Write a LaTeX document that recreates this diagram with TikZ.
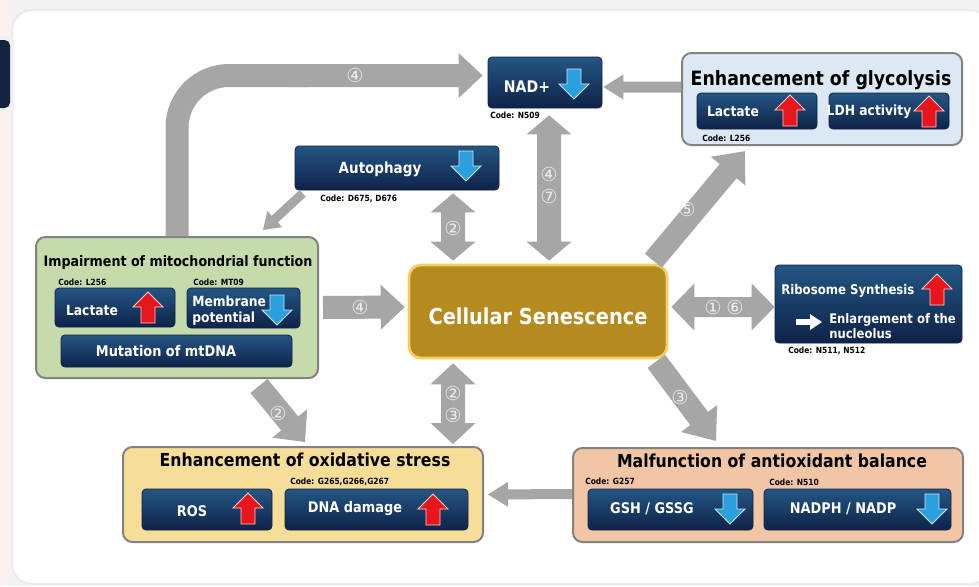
\documentclass[tikz,border=0pt]{standalone}
\usepackage{fontspec}
\newfontfamily\tah{DejaVu Sans}[FakeStretch=0.88]
\newfontfamily\circf{DejaVu Sans}
\usetikzlibrary{calc,fit}
\definecolor{arrgray}{RGB}{166,166,166}
\definecolor{navytop}{RGB}{36,86,132}
\definecolor{navybot}{RGB}{14,34,72}
\definecolor{goldfill}{RGB}{181,138,30}
\definecolor{goldedge}{RGB}{240,208,100}
\definecolor{glycfill}{RGB}{220,232,243}
\definecolor{mitofill}{RGB}{197,219,172}
\definecolor{oxfill}{RGB}{246,221,152}
\definecolor{antifill}{RGB}{242,197,165}
\definecolor{boxedge}{RGB}{130,130,130}
\definecolor{redarr}{RGB}{232,22,28}
\definecolor{bluearr}{RGB}{42,160,222}
\definecolor{tabcol}{RGB}{18,36,64}
\definecolor{bggray}{RGB}{243,243,243}
\newcommand\myfs[1]{\fontsize{#1}{#1}\selectfont}
\newcommand\myfsb[2]{\fontsize{#1}{#2}\selectfont}
% block arrow: start, end, shaft px, head width px, head length px, double(1/0)
\newcommand\garr[6]{%
 \path let \p1=(#1), \p2=(#2) in \pgfextra{%
   \pgfmathsetmacro\tmpang{atan2(\y2-\y1,\x2-\x1)}%
   \pgfmathsetmacro\tmplen{veclen(\x2-\x1,\y2-\y1)}%
   \xdef\gang{\tmpang}\xdef\glen{\tmplen}%
   \xdef\gx{\x1}\xdef\gy{\y1}};
 \pgfmathsetmacro\gs{#3*0.375}%
 \pgfmathsetmacro\gh{#4*0.375}%
 \pgfmathsetmacro\gl{#5*0.75}%
 \pgfmathsetmacro\gb{\glen-\gl}%
 \begin{scope}[shift={(\gx,\gy)},rotate=\gang]
 \ifnum#6=1
  \fill[arrgray] (0pt,0pt) -- (\gl pt,\gh pt) -- (\gl pt,\gs pt) -- (\gb pt,\gs pt) -- (\gb pt,\gh pt) -- (\glen pt,0pt) -- (\gb pt,-\gh pt) -- (\gb pt,-\gs pt) -- (\gl pt,-\gs pt) -- (\gl pt,-\gh pt) -- cycle;
 \else
  \fill[arrgray] (0pt,-\gs pt) -- (\gb pt,-\gs pt) -- (\gb pt,-\gh pt) -- (\glen pt,0pt) -- (\gb pt,\gh pt) -- (\gb pt,\gs pt) -- (0pt,\gs pt) -- cycle;
 \fi
 \end{scope}}
\tikzset{
 navybox/.style={rounded corners=3pt, top color=navytop, bottom color=navybot, draw=navybot, line width=0.6pt, inner sep=0pt},
 groupbox/.style={rounded corners=7pt, draw=boxedge, line width=1.5pt, inner sep=0pt},
 wtxt/.style={text=white, font=\tah\bfseries\myfs{10.5pt}, inner sep=0pt},
 ttl/.style={text=black, font=\tah\bfseries\myfs{13.4pt}, inner sep=0pt},
 codetxt/.style={text=black, font=\tah\bfseries\myfs{6.4pt}, inner sep=0pt, anchor=west},
 circnum/.style={text=white!92!black, font=\circf\myfs{14.5pt}, inner sep=0pt},
 redup/.pic={\filldraw[fill=redarr, draw=white!80!red, line width=0.7pt] (0,-16) -- (15,-1) -- (7,-1) -- (7,15) -- (-7,15) -- (-7,-1) -- (-15,-1) -- cycle;},
 bluedn/.pic={\filldraw[fill=bluearr, draw=white!75!bluearr, line width=0.7pt] (0,15) -- (15,0) -- (7,0) -- (7,-15) -- (-7,-15) -- (-7,0) -- (-15,0) -- cycle;},
}
\begin{document}
\begin{tikzpicture}[x=0.75pt,y=-0.75pt]
\useasboundingbox (0,0) rectangle (979,586);
% background and card
\fill[bggray] (0,0) rectangle (979,586);
\fill[red!6] (0,0) rectangle (7,586);
\fill[white, draw=black!8, line width=1.5pt, rounded corners=15pt] (12,10) rectangle (990,584);
\fill[black!6, rounded corners=5pt] (-10,36) rectangle (14,112);
\fill[tabcol, rounded corners=4pt] (-10,40) rectangle (10,108);

% ---------- boxes ----------
\node[groupbox, fill=glycfill, fit={(682,53)(962,145)}] (glyc) {};
\node[groupbox, fill=mitofill, fit={(36,237)(318,378)}] (mito) {};
\node[groupbox, fill=oxfill, fit={(123,447)(483,542)}] (oxid) {};
\node[groupbox, fill=antifill, fit={(573,448)(963,542)}] (anti) {};
\node[rounded corners=9pt, fill=goldfill, draw=goldedge, line width=2pt, inner sep=0pt, fit={(409,265)(667,358)}] (cell) {};

\node[navybox, fit={(488,57)(602,108)}] (nad) {};
\node[navybox, fit={(295,146)(499,190)}] (auto) {};
\node[navybox, fit={(697,93)(817,129)}] (glac) {};
\node[navybox, fit={(829,93)(949,129)}] (gldh) {};
\node[navybox, fit={(55,288)(175,327)}] (mlac) {};
\node[navybox, fit={(187,288)(300,328)}] (mmem) {};
\node[navybox, fit={(61,335)(292,367)}] (mmut) {};
\node[navybox, fit={(775,265)(962,343)}] (ribo) {};
\node[navybox, fit={(142,489)(272,530)}] (ros) {};
\node[navybox, fit={(285,489)(468,530)}] (dna) {};
\node[navybox, fit={(588,489)(753,530)}] (gsh) {};
\node[navybox, fit={(764,489)(951,530)}] (nadph) {};

% ---------- arrows ----------
\draw[arrgray, line width=17.25pt, rounded corners=39pt] (mito.north) |- ($(nad.west)+(-180,-7)$);
\garr{$(nad.west)+(-200,-7)$}{$(nad.west)+(-5,-7)$}{23}{45}{24}{0}
\garr{$(glyc.west)+(0,-12)$}{$(nad.east)+(1,4.5)$}{11}{25}{20}{0}
\garr{$(nad.south)+(4,7)$}{$(cell.north)+(11,-3)$}{24}{45}{19}{1}
\garr{$(auto.south)+(56,3)$}{$(cell.north)+(-85,-3)$}{24}{45}{19}{1}
\garr{$(auto.south west)+(8,3)$}{$(mito.north east)+(-56,-6)$}{9}{22}{16}{0}
\garr{$(mito.east)+(4,0)$}{$(cell.west)+(-3,-4.5)$}{23}{45}{24}{0}
\garr{$(cell.east)+(3,-4.5)$}{$(ribo.west)+(0,3)$}{20}{47}{23}{1}
\garr{$(cell.north east)+(-15,-3)$}{$(glyc.south west)+(64,5)$}{22}{45}{26}{0}
\garr{$(cell.south east)+(-12,2)$}{$(anti.north west)+(144,-6)$}{22}{45}{28}{0}
\garr{$(cell.south)+(-85,4)$}{$(oxid.north)+(150,-2)$}{24}{45}{21}{1}
\garr{$(mito.south east)+(-60,7)$}{$(oxid.north)+(2,-4)$}{22}{45}{24}{0}
\garr{$(anti.west)+(0,-1)$}{$(oxid.east)+(4,0)$}{10}{25}{20}{0}

% circled numbers
\node[circnum] (c4a) at (355,75) {④};
\node[circnum] (c4b) at (549,174) {④};
\node[circnum] (c7) at (549,196) {⑦};
\node[circnum] (c2a) at (453,228) {②};
\node[circnum] (c4c) at (360,307) {④};
\node[circnum] (c1) at (713,307) {①};
\node[circnum] (c6) at (735,307) {⑥};
\node[circnum] (c5) at (687,209) {⑤};
\node[circnum] (c3a) at (680,397) {③};
\node[circnum] (c2b) at (453,393) {②};
\node[circnum] (c3b) at (453,415) {③};
\node[circnum] (c2c) at (278,413) {②};

% ---------- texts ----------
\node[wtxt, font=\tah\bfseries\myfs{12pt}] (tnad) at (527,87) {NAD+};
\pic at (574,84) {bluedn};
\node[codetxt] (cnad) at (490,115) {Code: N509};

\node[ttl, font=\tah\bfseries\myfs{14.8pt}] (tglyc) at (821,80) {Enhancement of glycolysis};
\node[wtxt] (tglac) at (733,111) {Lactate};
\pic at (790,111) {redup};
\node[wtxt] (tgldh) at (869,112) {LDH activity};
\pic at (929,112) {redup};
\node[codetxt] (cglyc) at (702,138) {Code: L256};

\node[wtxt, font=\tah\bfseries\myfs{11.5pt}] (tauto) at (380,169) {Autophagy};
\pic at (466,166) {bluedn};
\node[codetxt] (cauto) at (320,199) {Code: D675, D676};

\node[ttl, font=\tah\bfseries\myfs{10.8pt}] (tmito) at (178,263) {Impairment of mitochondrial function};
\node[codetxt] (cmito1) at (58,282) {Code: L256};
\node[codetxt] (cmito2) at (193,282) {Code: MT09};
\node[wtxt] (tmlac) at (92,310) {Lactate};
\pic at (148,308) {redup};
\node[wtxt, anchor=west, align=left, font=\tah\bfseries\myfsb{10.5pt}{12pt}] (tmmem) at (192,311) {Membrane\\potential};
\pic at (277,310) {bluedn};
\node[wtxt, font=\tah\bfseries\myfs{11pt}] (tmmut) at (166,351) {Mutation of mtDNA};

\node[text=white, font=\tah\bfseries\myfs{16.5pt}, inner sep=0pt] (tcell) at (538,316) {Cellular Senescence};

\node[wtxt, anchor=west, font=\tah\bfseries\myfs{10pt}] (tribo) at (781,291) {Ribosome Synthesis};
\pic at (937,290) {redup};
\draw[white, line width=4pt] (796,322) -- (812,322);
\fill[white] (810,314) -- (822,322) -- (810,330) -- cycle;
\node[wtxt, anchor=west, align=left, font=\tah\bfseries\myfsb{9.9pt}{11.5pt}] (tenl) at (829,326) {Enlargement of the\\nucleolus};
\node[codetxt] (cribo) at (788,351) {Code: N511, N512};

\node[ttl] (toxid) at (305,460) {Enhancement of oxidative stress};
\node[codetxt] (coxid) at (290,482) {Code: G265,G266,G267};
\node[wtxt, font=\tah\bfseries\myfs{11pt}] (tros) at (192,511) {ROS};
\pic at (248,509) {redup};
\node[wtxt, font=\tah\bfseries\myfs{11pt}] (tdna) at (355,509) {DNA damage};
\pic at (433,510) {redup};

\node[ttl] (tanti) at (772,461) {Malfunction of antioxidant balance};
\node[codetxt] (canti1) at (585,481) {Code: G257};
\node[codetxt] (canti2) at (769,482) {Code: N510};
\node[wtxt, font=\tah\bfseries\myfs{11pt}] (tgsh) at (652,509) {GSH / GSSG};
\pic at (730,509) {bluedn};
\node[wtxt, font=\tah\bfseries\myfs{11pt}] (tnadph) at (843,509) {NADPH / NADP};
\pic at (932,509) {bluedn};
\end{tikzpicture}
\end{document}
